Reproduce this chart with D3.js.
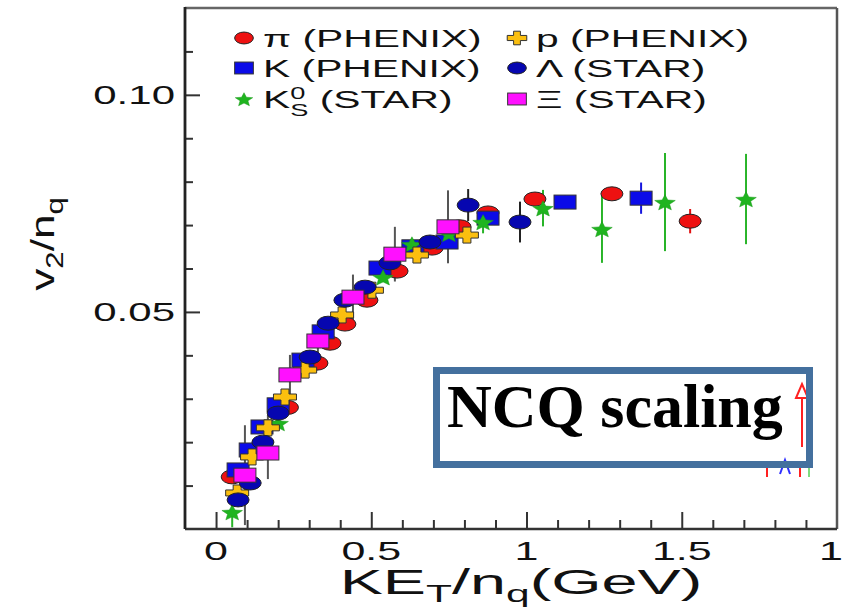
<!DOCTYPE html>
<html>
<head>
<meta charset="utf-8">
<script src="https://cdn.jsdelivr.net/npm/d3@7"></script>
<style>
  html, body { margin: 0; padding: 0; background: #fff; }
  svg { display: block; }
</style>
</head>
<body>
<script>
// ---- data: v2/nq versus KE_T/nq for identified hadrons ----
const speciesNames = ["π (PHENIX)", "p (PHENIX)", "K (PHENIX)", "Λ (STAR)", "K0S (STAR)", "Ξ (STAR)"];

// π (PHENIX)
const piKE  = [0.052, 0.230, 0.325, 0.367, 0.415, 0.486, 0.583, 0.696, 0.786, 0.876, 1.027, 1.275, 1.527];
const piV2  = [0.0120, 0.0280, 0.0382, 0.0428, 0.0472, 0.0527, 0.0594, 0.0647, 0.0696, 0.0728, 0.0760, 0.0772, 0.0709];
const piErr = [0.0008, 0.0008, 0.0008, 0.0008, 0.0008, 0.0008, 0.0008, 0.0008, 0.0008, 0.0010, 0.0012, 0.0015, 0.0028];

// K (PHENIX)
const kKE  = [0.071, 0.110, 0.148, 0.200, 0.280, 0.345, 0.528, 0.634, 0.744, 0.876, 1.124, 1.369];
const kV2  = [0.0136, 0.0182, 0.0235, 0.0286, 0.0389, 0.0454, 0.0601, 0.0650, 0.0661, 0.0716, 0.0753, 0.0762];
const kErr = [0.0008, 0.0008, 0.0008, 0.0008, 0.0008, 0.0008, 0.0008, 0.0008, 0.0008, 0.0010, 0.0015, 0.0036];

// p (PHENIX)
const pKE  = [0.068, 0.116, 0.167, 0.222, 0.287, 0.406, 0.502, 0.647, 0.808];
const pV2  = [0.0083, 0.0166, 0.0233, 0.0304, 0.0366, 0.0493, 0.0550, 0.0631, 0.0677];
const pErr = [0.0010, 0.0010, 0.0030, 0.0010, 0.0010, 0.0010, 0.0010, 0.0010, 0.0010];

// Λ (STAR)
const lamKE  = [0.071, 0.110, 0.151, 0.200, 0.303, 0.361, 0.415, 0.480, 0.560, 0.689, 0.812, 0.979];
const lamV2  = [0.0067, 0.0106, 0.0200, 0.0267, 0.0396, 0.0474, 0.0527, 0.0557, 0.0613, 0.0661, 0.0746, 0.0707];
const lamErr = [0.0010, 0.0010, 0.0010, 0.0010, 0.0010, 0.0010, 0.0010, 0.0010, 0.0012, 0.0015, 0.0037, 0.0047];

// K0S (STAR)
const k0KE  = [0.052, 0.200, 0.538, 0.631, 0.750, 0.860, 1.053, 1.243, 1.446, 1.707];
const k0V2  = [0.0039, 0.0244, 0.0580, 0.0656, 0.0680, 0.0707, 0.0739, 0.0691, 0.0753, 0.0760];
const k0Err = [0.0035, 0.0010, 0.0010, 0.0010, 0.0010, 0.0026, 0.0042, 0.0078, 0.0113, 0.0104];

// Ξ (STAR)
const xiKE  = [0.093, 0.167, 0.238, 0.328, 0.441, 0.576, 0.747];
const xiV2  = [0.0124, 0.0175, 0.0355, 0.0433, 0.0534, 0.0633, 0.0696];
const xiErr = [0.0115, 0.0060, 0.0046, 0.0040, 0.0052, 0.0063, 0.0084];

// ---- axis ticks ----
const xMajorTicks = [0, 0.5, 1, 1.5, 2];
const xTickLabels = ["0", "0.5", "1", "1.5", "1"];
const xMinorTicks = [0.1, 0.2, 0.3, 0.4, 0.6, 0.7, 0.8, 0.9, 1.1, 1.2, 1.3, 1.4, 1.6, 1.7, 1.8, 1.9];
const yMajorTicks = [0.05, 0.10];
const yTickLabels = ["0.05", "0.10"];
const yMinorTicks = [0.01, 0.02, 0.03, 0.04, 0.06, 0.07, 0.08, 0.09, 0.11];

const W = 848, H = 611;
const frame = { left: 185, right: 837, top: 8, bottom: 529 };
const SX = 1.72;              // wide sans lettering
const SANS = "'Liberation Sans', Arial, Helvetica, sans-serif";

const svg = d3.select("body").append("svg").attr("width", W).attr("height", H);
svg.append("rect").attr("width", W).attr("height", H).attr("fill", "#fff");

const x = d3.scaleLinear().domain([-0.1, 2.0]).range([frame.left, frame.right]);
const y = d3.scaleLinear().domain([0, 0.12]).range([frame.bottom, frame.top]);

// text helper: horizontally widened lettering
function wideText(parent, px, py, size, anchor, sx = SX, rot = 0) {
  const g = parent.append("g")
    .attr("transform", `translate(${px},${py}) rotate(${rot}) scale(${sx},1)`);
  return g.append("text")
    .attr("x", 0).attr("y", 0)
    .attr("text-anchor", anchor)
    .attr("font-family", SANS)
    .attr("font-size", size)
    .attr("fill", "#111");
}

// ---- marker shapes ----
function drawEllipse(g, cx, cy, s, fill) {
  g.append("ellipse").attr("cx", cx).attr("cy", cy)
    .attr("rx", 11 * s).attr("ry", 7 * s)
    .attr("fill", fill).attr("stroke", "#222").attr("stroke-width", 1);
}
function drawSquare(g, cx, cy, s, fill) {
  g.append("rect").attr("x", cx - 11 * s).attr("y", cy - 7 * s)
    .attr("width", 22 * s).attr("height", 14 * s)
    .attr("fill", fill).attr("stroke", "#333").attr("stroke-width", 1);
}
function drawCross(g, cx, cy, s, fill) {
  const w = 11.5 * s, h = 8 * s, a = 4 * s, b = 3 * s;
  const p = [
    [-a, -h], [a, -h], [a, -b], [w, -b], [w, b], [a, b], [a, h], [-a, h],
    [-a, b], [-w, b], [-w, -b], [-a, -b]
  ].map(([u, v]) => [cx + u, cy + v]);
  g.append("path").attr("d", d3.line()(p) + "Z")
    .attr("fill", fill).attr("stroke", "#333").attr("stroke-width", 1);
}
function drawStar(g, cx, cy, s, fill) {
  const R = 8 * s, r = 3.6 * s, kx = 1.35;
  const pts = d3.range(10).map(i => {
    const ang = -Math.PI / 2 + i * Math.PI / 5;
    const rad = i % 2 === 0 ? R : r;
    return [cx + kx * rad * Math.cos(ang), cy + 1.05 * rad * Math.sin(ang) + 1 * s];
  });
  g.append("path").attr("d", d3.line()(pts) + "Z")
    .attr("fill", fill).attr("stroke", "#1a9a1a").attr("stroke-width", 0.5);
}

const series = [
  { name: speciesNames[0], ke: piKE,  v2: piV2,  err: piErr,  shape: drawEllipse, fill: "#ee1111", errColor: "#e01010" },
  { name: speciesNames[2], ke: kKE,   v2: kV2,   err: kErr,   shape: drawSquare,  fill: "#0b0be8", errColor: "#1515dd" },
  { name: speciesNames[4], ke: k0KE,  v2: k0V2,  err: k0Err,  shape: drawStar,    fill: "#1fb41f", errColor: "#28b428" },
  { name: speciesNames[1], ke: pKE,   v2: pV2,   err: pErr,   shape: drawCross,   fill: "#fbbf0f", errColor: "#555" },
  { name: speciesNames[3], ke: lamKE, v2: lamV2, err: lamErr, shape: drawEllipse, fill: "#0606b0", errColor: "#222" },
  { name: speciesNames[5], ke: xiKE,  v2: xiV2,  err: xiErr,  shape: drawSquare,  fill: "#ff10ff", errColor: "#555" }
];

// ---- error bars ----
const errG = svg.append("g");
series.forEach(s => {
  errG.selectAll(null).data(s.ke.map((k, i) => ({ k, v: s.v2[i], e: s.err[i] })))
    .enter().append("line")
    .attr("x1", d => x(d.k)).attr("x2", d => x(d.k))
    .attr("y1", d => y(d.v - d.e)).attr("y2", d => y(d.v + d.e))
    .attr("stroke", s.errColor).attr("stroke-width", 2);
});

// ---- markers ----
const markG = svg.append("g");
series.forEach(s => {
  s.ke.forEach((k, i) => s.shape(markG, x(k), y(s.v2[i]), 1, s.fill));
});

// ---- frame and ticks ----
const axG = svg.append("g");
axG.append("g").attr("transform", `translate(0,${frame.bottom})`)
  .call(d3.axisBottom(x).tickValues(xMajorTicks.filter(v => v < 2)).tickSize(-17).tickFormat(""));
axG.append("g").attr("transform", `translate(0,${frame.bottom})`)
  .call(d3.axisBottom(x).tickValues(xMinorTicks).tickSize(-9).tickFormat(""));
axG.append("g").attr("transform", `translate(${frame.left},0)`)
  .call(d3.axisLeft(y).tickValues(yMajorTicks).tickSize(-15).tickFormat(""));
axG.append("g").attr("transform", `translate(${frame.left},0)`)
  .call(d3.axisLeft(y).tickValues(yMinorTicks).tickSize(-8).tickFormat(""));
axG.selectAll(".domain").remove();
axG.selectAll(".tick line").attr("stroke", "#333").attr("stroke-width", 2);

svg.append("line").attr("x1", frame.left).attr("x2", frame.right).attr("y1", frame.top).attr("y2", frame.top)
  .attr("stroke", "#666").attr("stroke-width", 2.5);
svg.append("line").attr("x1", frame.right).attr("x2", frame.right).attr("y1", frame.top).attr("y2", frame.bottom)
  .attr("stroke", "#555").attr("stroke-width", 2.5);
svg.append("line").attr("x1", frame.left).attr("x2", frame.right).attr("y1", frame.bottom).attr("y2", frame.bottom)
  .attr("stroke", "#333").attr("stroke-width", 2.5);
svg.append("line").attr("x1", frame.left).attr("x2", frame.left).attr("y1", frame.top - 1).attr("y2", frame.bottom)
  .attr("stroke", "#222").attr("stroke-width", 2.8);

// ---- tick labels ----
const xLabelPos = [x(0), x(0.5), x(1), x(1.5), 831];
xMajorTicks.forEach((v, i) => {
  wideText(svg, xLabelPos[i], 560, 25, "middle").text(xTickLabels[i]);
});
yMajorTicks.forEach((v, i) => {
  wideText(svg, 175, y(v) + 9, 25, "end", 1.68).text(yTickLabels[i]);
});

// ---- axis titles ----
const xt = wideText(svg, 521, 594, 35, "middle", 1.85);
xt.append("tspan").text("KE");
xt.append("tspan").attr("font-size", 23).attr("dy", 8).text("T");
xt.append("tspan").attr("dy", -8).text("/n");
xt.append("tspan").attr("font-size", 23).attr("dy", 8).text("q");
xt.append("tspan").attr("dy", -8).text("(GeV)");

const yt = wideText(svg, 54, 244, 34, "middle", 1.3, -90);
yt.append("tspan").text("v");
yt.append("tspan").attr("font-size", 24).attr("dy", 9).text("2");
yt.append("tspan").attr("dy", -9).text("/n");
yt.append("tspan").attr("font-size", 24).attr("dy", 9).text("q");

// ---- legend ----
const legendRows = [38, 68, 99];
const legendCols = [244, 517];
const legendShapes = [series[0], series[3], series[1], series[4], series[2], series[5]];
const legG = svg.append("g");
legendShapes.forEach((s, i) => {
  const row = Math.floor(i / 2), col = i % 2;
  const cx = legendCols[col], cy = legendRows[row];
  s.shape(legG, cx, cy, 0.85, s.fill);
  const t = wideText(legG, cx + 19, cy + 9, 24, "start", 1.7);
  if (s.name === "K0S (STAR)") {
    t.append("tspan").text("K");
    t.append("tspan").attr("font-size", 16).attr("dy", -9).text("0");
    t.append("tspan").attr("font-size", 16).attr("dx", -8.9).attr("dy", 17).text("S");
    t.append("tspan").attr("dy", -8).text(" (STAR)");
  } else {
    t.text(s.name);
  }
});

// ---- inset label box ----
const box = svg.append("g");
box.append("rect").attr("x", 436.5).attr("y", 370.5).attr("width", 373).attr("height", 94)
  .attr("fill", "#fff");
// arrow fragment at the box's right side
box.append("line").attr("x1", 802).attr("x2", 802).attr("y1", 392).attr("y2", 447)
  .attr("stroke", "#ff2020").attr("stroke-width", 2);
box.append("path").attr("d", "M796,398 L802,384 L808,398 Z")
  .attr("fill", "#fff").attr("stroke", "#ff2020").attr("stroke-width", 2);
// small coloured fragments just below the box
box.append("line").attr("x1", 767).attr("x2", 767).attr("y1", 462).attr("y2", 477)
  .attr("stroke", "#ff2020").attr("stroke-width", 2);
box.append("path").attr("d", "M780,474 L785,460 L790,474")
  .attr("fill", "none").attr("stroke", "#3030ff").attr("stroke-width", 2);
box.append("line").attr("x1", 800).attr("x2", 800).attr("y1", 464).attr("y2", 477)
  .attr("stroke", "#ff2020").attr("stroke-width", 2);
box.append("line").attr("x1", 809).attr("x2", 809).attr("y1", 464).attr("y2", 477)
  .attr("stroke", "#7fdc7f").attr("stroke-width", 2);
box.append("rect").attr("x", 436.5).attr("y", 370.5).attr("width", 373).attr("height", 94)
  .attr("fill", "none").attr("stroke", "#44709e").attr("stroke-width", 7);
box.append("text").attr("x", 447).attr("y", 427)
  .attr("font-family", "'Liberation Serif', 'Times New Roman', serif")
  .attr("font-weight", "bold").attr("font-size", 62).attr("fill", "#000")
  .text("NCQ scaling");
</script>
</body>
</html>
